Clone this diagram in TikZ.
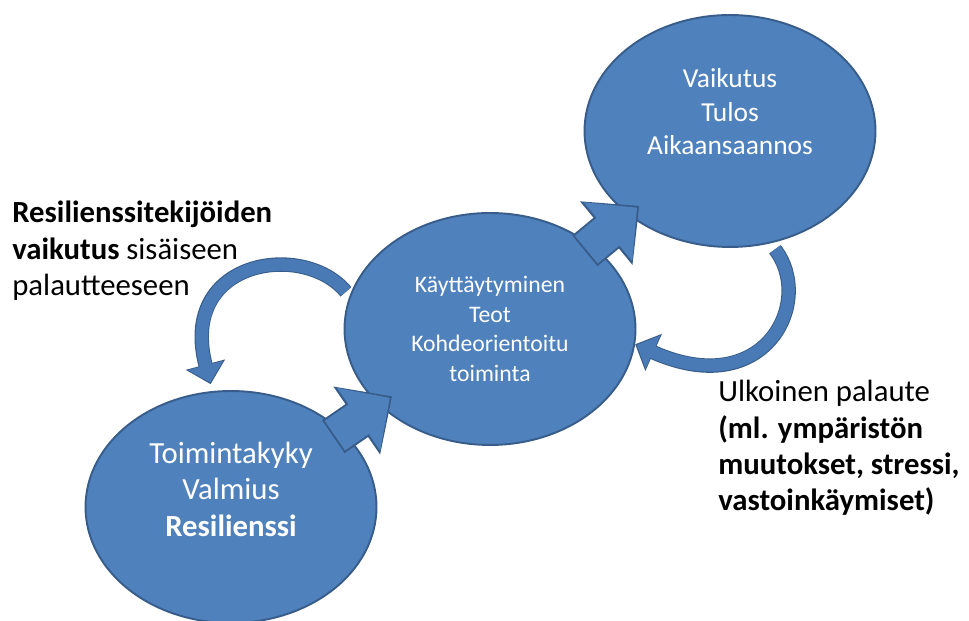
\documentclass[tikz,border=0pt]{standalone}
\usepackage{fontspec}
\setmainfont{Carlito}
\usetikzlibrary{arrows.meta,calc,shapes.geometric}
\definecolor{bubblefill}{HTML}{4F81BD}
\definecolor{bubbleedge}{HTML}{385D8A}
\definecolor{loopfill}{HTML}{4A7AB6}
\tikzset{
  bubble/.style={ellipse, draw=bubbleedge, line width=1.1pt, fill=bubblefill, minimum width=5.82cm, minimum height=4.64cm, inner sep=0pt},
  bubbletext/.style={text=white, align=center, inner sep=0pt},
  sidetext/.style={align=left, anchor=north west, inner sep=0pt, font=\fontsize{17.5}{20.7}\selectfont},
  pushedge/.style={draw=bubbleedge, line width=22.7pt, -{Triangle[width=45.4pt,length=24.4pt]}},
  pushface/.style={draw=bubblefill, line width=20.4pt, shorten <=1.1pt, shorten >=1.6pt, -{Triangle[width=41.9pt,length=21.5pt]}},
  loopedge/.style={draw=bubbleedge, line width=8.2pt, -{Triangle[width=22.5pt,length=11.5pt]}},
  loopface/.style={draw=loopfill, line width=7pt, shorten >=1pt, -{Triangle[width=20pt,length=10pt]}}
}
\begin{document}
\begin{tikzpicture}[x=0.02cm, y=0.02cm]
                \useasboundingbox (0,0) rectangle (969,621);
                \node[bubble] (tk) at (231,114) {};
                \node[bubble] (kt) at (490,292) {};
                \node[bubble] (vt) at (730,490) {};
                \foreach \a/\b in {tk/kt, kt/vt}
                {
                    \foreach \s in {pushedge, pushface}
                        \draw[\s] ($(\a.center)!0.395!(\b.center)$) -- ($(\a.center)!0.622!(\b.center)$);
                }
                \foreach \s in {loopedge, loopface}
                {
                    \draw[\s] ([xshift=-3pt]kt.165) .. controls +(-42,51) and +(-33,125) .. ([yshift=4pt]tk.100);
                    \draw[\s] ([yshift=-4pt]vt.-68) .. controls +(40,-52) and +(130,-58) .. (kt.-6);
                }
                \node[bubbletext, font=\fontsize{17.5}{21}\selectfont] (tktext) at ([yshift=10pt]tk.center) {Toimintakyky\\Valmius\\\textbf{Resilienssi}};
                \node[bubbletext, font=\fontsize{13.5}{16.8}\selectfont] (kttext) at (kt.center) {Käyttäytyminen\\Teot\\Kohdeorientoitu\\toiminta};
                \node[bubbletext, font=\fontsize{15.6}{19}\selectfont] (vttext) at ([yshift=11pt]vt.center) {Vaikutus\\Tulos\\Aikaansaannos};
                \node[sidetext] (inner) at (12,420) {\textbf{Resilienssitekijöiden}\\\textbf{vaikutus} sisäiseen\\palautteeseen};
                \node[sidetext] (outer) at (718,241) {Ulkoinen palaute\\\textbf{(ml. ympäristön}\\\textbf{muutokset, stressi,}\\\textbf{vastoinkäymiset)}};
            \end{tikzpicture}
\end{document}
